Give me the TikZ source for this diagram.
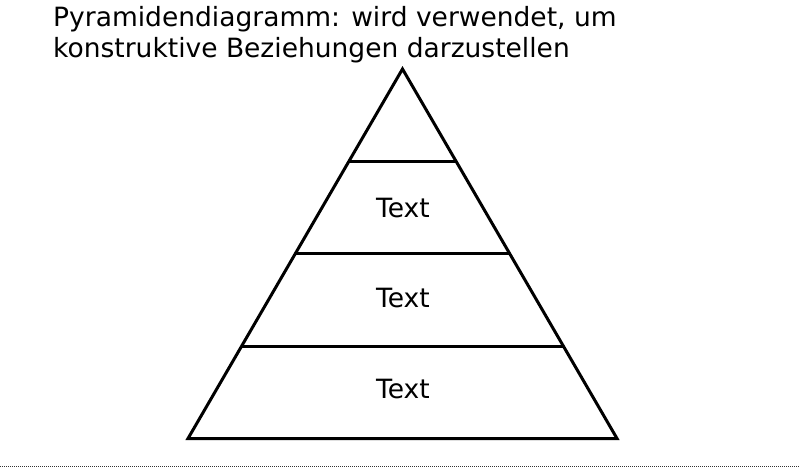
\documentclass[tikz,border=0pt]{standalone}
\usepackage{fontspec}
\setmainfont{DejaVu Sans}
\usetikzlibrary{calc}
\begin{document}
\begin{tikzpicture}[x=1bp,y=-1bp,
  titletext/.style={anchor=base west,inner sep=0pt,font=\fontsize{26.5bp}{31bp}\selectfont},
  layertext/.style={inner sep=0pt,font=\fontsize{26.5bp}{31bp}\selectfont},
  pyr/.style={line width=3bp,line join=miter,black}]
\useasboundingbox (0,0) rectangle (800,470);
\node[titletext] (t1) at (53,27) {Pyramidendiagramm: wird verwendet, um};
\node[titletext] (t2) at (53,58) {konstruktive Beziehungen darzustellen};
\coordinate (apex) at (402.5,69);
\coordinate (bl) at (188,438.5);
\coordinate (br) at (617,438.5);
\draw[pyr] (apex) -- (bl) -- (br) -- cycle;
\foreach \f/\n in {0.25/a,0.5/b,0.75/c}{
  \coordinate (l\n) at ($(apex)!\f!(bl)$);
  \coordinate (r\n) at ($(apex)!\f!(br)$);
  \draw[pyr] (l\n) -- (r\n);
}
\node[layertext,anchor=base] (x1) at (403,217.5) {Text};
\node[layertext,anchor=base] (x2) at (403,308) {Text};
\node[layertext,anchor=base] (x3) at (403,398.5) {Text};
\coordinate (dl) at (0,466);
\coordinate (dr) at (800,466);
\draw[line width=1bp,dash pattern=on 1bp off 1bp,black!80] (dl) -- (dr);
\end{tikzpicture}
\end{document}
